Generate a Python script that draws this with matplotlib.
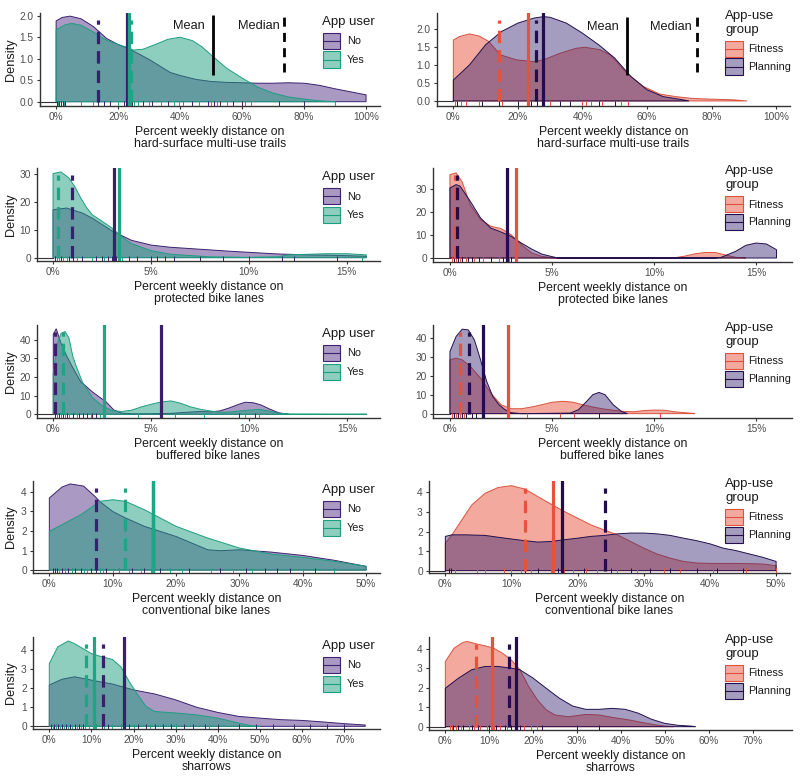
import matplotlib
matplotlib.use('Agg')
import matplotlib.pyplot as plt
from matplotlib.patches import Rectangle
from matplotlib.lines import Line2D
from matplotlib.colors import to_rgba

plt.rcParams['font.family'] = ['Liberation Sans', 'DejaVu Sans']
plt.rcParams['lines.scale_dashes'] = False

# ---------------- data (percent weekly distance, density) ----------------
# Row 1: hard-surface multi-use trails
l1_pct_no = [0, 2, 4.5, 8, 12, 16.3, 20, 22.8, 27, 30.3, 36.8, 40, 45, 50, 55, 60, 65, 70, 75, 80, 85, 90, 95, 100]
l1_den_no = [1.88, 1.96, 1.99, 1.93, 1.75, 1.47, 1.33, 1.25, 1.10, 0.97, 0.68, 0.61, 0.52, 0.47, 0.45, 0.44, 0.43, 0.43, 0.44, 0.43, 0.38, 0.30, 0.23, 0.16]
l1_pct_yes = [0, 3, 5, 8, 12, 16, 20, 23, 25, 28, 32, 36, 40, 44, 47, 50, 55, 60, 65, 70, 75, 80, 85, 90]
l1_den_yes = [1.67, 1.79, 1.82, 1.78, 1.62, 1.44, 1.33, 1.26, 1.20, 1.22, 1.33, 1.45, 1.50, 1.42, 1.28, 1.09, 0.78, 0.55, 0.34, 0.20, 0.11, 0.06, 0.02, 0.0]
r1_pct_fit = [0, 2, 5, 8, 11, 14.5, 19.6, 24.8, 27.9, 33, 38, 40.8, 45.5, 48.6, 53.7, 58.9, 64, 69, 74, 80, 87, 91]
r1_den_fit = [1.69, 1.79, 1.86, 1.80, 1.65, 1.28, 1.14, 1.09, 1.14, 1.32, 1.46, 1.49, 1.42, 1.28, 0.77, 0.40, 0.19, 0.12, 0.07, 0.05, 0.03, 0.0]
r1_pct_plan = [0, 5, 10, 15, 20, 25, 28, 30, 35, 40, 45, 50, 55, 60, 65, 70, 73]
r1_den_plan = [0.58, 1.0, 1.56, 1.93, 2.16, 2.30, 2.34, 2.32, 2.16, 1.88, 1.56, 1.19, 0.68, 0.31, 0.12, 0.05, 0.0]

# Row 2: protected bike lanes
l2_pct_no = [0, 0.7, 1.5, 2, 3, 4, 5, 6, 7.5, 9, 10, 11.5, 13, 14.5, 16]
l2_den_no = [17.1, 17.7, 15.9, 14.1, 9.6, 6.2, 4.5, 3.7, 3.0, 2.3, 1.9, 1.3, 1.0, 0.8, 0.5]
l2_pct_yes = [0, 0.4, 0.8, 1.1, 1.4, 1.7, 2.0, 2.5, 3.0, 3.5, 4, 5, 6, 8, 10, 11.5, 12, 13, 14, 15, 16]
l2_den_yes = [30.0, 30.6, 28.5, 25.5, 21.5, 18.0, 15.3, 13.0, 10.6, 7.5, 5.0, 2.5, 1.2, 0.3, 0.1, 0.3, 1.0, 1.2, 1.4, 1.4, 1.0]
r2_pct_fit = [0, 0.3, 0.6, 1.0, 1.5, 2.0, 2.5, 3.0, 3.5, 4.0, 4.5, 5.0, 5.5, 11.0, 11.5, 12.0, 12.5, 13.0, 13.5, 14.0, 14.5]
r2_den_fit = [36.2, 37.0, 33.0, 23.0, 16.7, 13.8, 12.8, 10.1, 5.8, 2.2, 0.7, 0.1, 0.0, 0.1, 0.8, 1.8, 2.4, 2.4, 1.3, 0.3, 0.0]
r2_pct_plan = [0, 0.3, 0.5, 1.0, 1.5, 2.0, 2.5, 3.0, 3.5, 4.0, 4.5, 5.0, 5.3, 13.0, 13.3, 14.0, 14.5, 15.0, 15.5, 16.0]
r2_den_plan = [30.4, 31.9, 31.2, 24.6, 17.4, 13.0, 11.3, 9.4, 6.5, 3.9, 1.7, 0.6, 0.0, 0.0, 0.3, 2.9, 5.5, 6.5, 6.1, 3.6]

# Row 3: buffered bike lanes
l3_pct_no = [0, 0.15, 0.4, 0.7, 1.0, 1.4, 2.0, 2.7, 3.1, 3.5, 4, 5, 6, 7, 7.5, 8, 8.5, 9, 9.5, 9.8, 10.2, 10.6, 11, 11.5, 12]
l3_den_no = [43, 46, 38, 31, 25, 17.5, 12, 6.6, 2.2, 0.6, 0.2, 0.2, 0.5, 1.2, 1.5, 1.3, 1.8, 3.5, 5.5, 6.5, 6.2, 5.0, 3.0, 0.8, 0.1]
l3_pct_yes = [0, 0.2, 0.4, 0.6, 0.8, 1.0, 1.2, 1.5, 2.0, 2.5, 3.0, 3.5, 4, 4.5, 5, 5.5, 6, 6.5, 7, 7.5, 8, 8.5, 9, 9.5, 10, 10.5, 11, 11.5, 12, 14, 16]
l3_den_yes = [22, 38, 43.5, 44.5, 41, 31, 25, 17, 9, 4.5, 2.0, 1.5, 2.2, 4, 5.4, 6.6, 7.2, 5.9, 4, 2.7, 1.8, 1.1, 1.2, 1.8, 2.2, 2.6, 1.8, 0.5, 0.1, 0.05, 0.05]
r3_pct_fit = [0, 0.3, 0.6, 1.0, 1.5, 2.0, 2.5, 3.0, 3.5, 4.0, 4.5, 5.0, 5.5, 6.0, 6.5, 7.0, 7.5, 8.0, 8.5, 9.0, 9.5, 10.0, 10.5, 11.0, 11.5, 12.0]
r3_den_fit = [28.4, 29.3, 28.4, 24.9, 18.8, 10.9, 4.7, 2.6, 2.6, 3.5, 4.7, 6.0, 6.5, 6.1, 4.7, 3.5, 2.5, 1.8, 1.2, 1.0, 1.6, 1.9, 1.8, 1.0, 0.5, 0.1]
r3_pct_plan = [0, 0.3, 0.6, 0.9, 1.2, 1.5, 1.8, 2.1, 2.4, 2.7, 3.0, 3.5, 5.9, 6.3, 6.7, 7.0, 7.3, 7.6, 8.0, 8.4, 8.7]
r3_den_plan = [32.8, 40.7, 44.6, 44.2, 38.9, 28.4, 17.0, 9.1, 4.7, 2.1, 0.5, 0.0, 0.3, 2.1, 6.5, 10.0, 11.2, 10.0, 4.7, 1.2, 0.0]

# Row 4: conventional bike lanes
l4_pct_no = [0, 2, 3.3, 5.4, 7.2, 8, 10, 12, 15, 20, 25, 27, 30, 35, 40, 45, 50]
l4_den_no = [3.69, 4.25, 4.41, 4.30, 3.77, 3.5, 3.0, 2.67, 2.24, 1.72, 1.04, 0.99, 1.04, 0.92, 0.75, 0.5, 0.19]
l4_pct_yes = [0, 5, 8, 10, 12, 15, 20, 25, 30, 35, 40, 45, 50]
l4_den_yes = [1.98, 2.84, 3.52, 3.6, 3.52, 3.09, 2.24, 1.64, 1.13, 0.82, 0.65, 0.45, 0.19]
r4_pct_fit = [0, 1, 2, 4, 6, 8, 10, 12, 14, 16, 18, 20, 22, 24, 26, 28, 30, 32, 34, 36, 38, 40, 44, 48, 50]
r4_den_fit = [1.40, 1.83, 2.34, 3.36, 3.95, 4.25, 4.34, 4.17, 3.78, 3.39, 3.02, 2.68, 2.34, 2.08, 1.83, 1.49, 1.15, 0.85, 0.64, 0.47, 0.39, 0.37, 0.37, 0.34, 0.25]
r4_pct_plan = [0, 1, 3, 6, 9, 12, 14, 16, 18, 20, 22, 24, 26, 28, 30, 32, 34, 36, 38, 40, 42, 44, 46, 48, 50]
r4_den_plan = [1.75, 1.83, 1.83, 1.80, 1.66, 1.53, 1.46, 1.49, 1.58, 1.66, 1.75, 1.80, 1.88, 1.92, 1.92, 1.88, 1.80, 1.66, 1.53, 1.37, 1.15, 1.02, 0.85, 0.68, 0.47]

# Row 5: sharrows
l5_pct_no = [0, 3, 6, 9, 12, 15, 20, 25, 30, 35, 40, 45, 50, 55, 60, 65, 70, 75]
l5_den_no = [2.17, 2.47, 2.60, 2.47, 2.34, 2.22, 1.91, 1.70, 1.39, 1.0, 0.73, 0.52, 0.43, 0.35, 0.31, 0.23, 0.14, 0.07]
l5_pct_yes = [0, 2, 4.5, 6, 8, 10, 12, 15, 17, 19, 21, 23, 25, 30, 35, 40, 45, 48, 50]
l5_den_yes = [3.30, 4.17, 4.48, 4.34, 4.08, 3.82, 3.68, 3.51, 3.12, 2.34, 1.65, 1.04, 0.78, 0.70, 0.60, 0.43, 0.17, 0.03, 0.0]
r5_pct_fit = [0, 2, 4, 5, 7, 9, 11, 13, 15, 17, 19, 21, 23, 25, 28, 32, 35, 38, 42, 45, 48, 50, 52]
r5_den_fit = [3.34, 4.03, 4.32, 4.37, 4.25, 4.15, 4.03, 3.77, 3.43, 2.92, 2.06, 1.37, 0.86, 0.60, 0.51, 0.63, 0.60, 0.48, 0.34, 0.21, 0.09, 0.03, 0.0]
r5_pct_plan = [0, 3, 6, 9, 12, 15, 17, 20, 23, 26, 29, 32, 35, 38, 41, 44, 47, 50, 53, 56, 57]
r5_den_plan = [1.97, 2.49, 2.92, 3.09, 3.09, 3.0, 2.92, 2.49, 1.97, 1.46, 1.06, 0.89, 0.89, 0.94, 0.89, 0.69, 0.38, 0.17, 0.07, 0.03, 0.0]

# means and medians per panel (order: first group, second group)
l1_means = [22.8, 23.5];  l1_medians = [13.6, 24.3]
r1_means = [23.0, 27.9];  r1_medians = [14.3, 25.6]
l2_means = [3.11, 3.37];  l2_medians = [0.99, 0.26]
r2_means = [3.24, 2.78];  r2_medians = [0.25, 0.33]
l3_means = [5.49, 2.58];  l3_medians = [0.08, 0.48]
r3_means = [2.86, 1.60];  r3_medians = [0.49, 0.95]
l4_means = [16.3, 16.3];  l4_medians = [7.3, 12.0]
r4_means = [16.2, 17.6];  r4_medians = [12.0, 24.1]
l5_means = [17.8, 10.7];  l5_medians = [12.8, 8.7]
r5_means = [10.6, 16.1];  r5_medians = [7.1, 14.6]

# rug observations
l1_rug_no = [0.4, 1.0, 1.6, 2.3, 3.0, 13.5, 15.5, 17.5, 22, 24.5, 28, 31, 36, 41, 44, 49, 51, 53, 57, 60, 72, 80]
l1_rug_yes = [0.7, 2.5, 8, 12, 20, 23.5, 24, 25, 26.5, 30, 34, 38, 39.5, 41, 46, 50, 52, 55, 61, 63, 90]
r1_rug_fit = [0.5, 1.2, 2.5, 4, 8, 15, 23, 30, 40, 41, 42.5, 46, 52, 54]
r1_rug_plan = [1, 9, 14, 20, 24, 26, 28, 33, 36, 45, 50]
l2_rug_no = [0.1, 0.4, 0.8, 1.0, 1.5, 2.2, 2.5, 2.8, 3.0, 3.2, 3.9, 4.3, 5.0, 5.3, 5.7, 6.2, 7.5, 8.7, 10.0, 11.7, 12.3, 14.5]
l2_rug_yes = [0.2, 0.3, 0.5, 0.7, 1.2, 2.0, 2.6, 3.3, 3.5, 15.8]
r2_rug_fit = [0.1, 0.3, 0.5, 0.8, 1.2, 1.6, 2.4, 2.9, 3.3]
r2_rug_plan = [0.2, 0.4, 0.6, 0.9, 1.1, 1.4, 2.0, 2.6, 3.0]
l3_rug_no = [0.1, 0.2, 0.3, 0.4, 0.5, 0.7, 1.0, 1.3, 1.5, 1.7, 2.0, 2.2, 9.5, 10.3]
l3_rug_yes = [0.2, 0.4, 0.6, 0.8, 1.2, 1.9, 2.4, 2.6, 4.3, 5.5, 6.2, 7.7, 9.8, 10.5]
r3_rug_fit = [0.1, 0.3, 0.5, 0.7, 3.8, 5.4, 6.1, 10.3]
r3_rug_plan = [0.2, 0.4, 0.6, 0.8, 1.1, 1.3, 7.3]
l4_rug_no = [0.5, 0.9, 1.2, 2.0, 2.5, 3.0, 3.5, 4.0, 5.0, 6.5, 7.3, 9, 11, 13, 15, 17.5, 19, 22, 27, 31, 34, 36, 38, 42, 45]
l4_rug_yes = [1.5, 2.5, 3.5, 5.5, 6, 8, 8.5, 10, 11, 12.5, 14.5, 16, 19, 21, 25.5, 29, 32, 40, 45]
r4_rug_fit = [1.5, 4.8, 6, 8.8, 10, 11.5, 13, 14, 16, 18, 19.3, 21.3, 23, 26, 29, 33, 35.5, 40.5, 45.5, 50]
r4_rug_plan = [0.5, 0.9, 12, 14, 17, 21, 25, 28, 31, 34, 38, 41, 45]
l5_rug_no = [0.5, 1, 1.5, 2, 3, 4, 5, 6, 7, 8, 11, 12.5, 13, 14, 17, 19, 21, 23, 25, 27, 29, 30, 32, 34, 37, 40, 45, 49, 53, 58, 62, 66, 70]
l5_rug_yes = [0.8, 1.5, 2.5, 3.5, 4.5, 5.5, 6.5, 7.5, 8.5, 9.5, 11, 13, 15, 17, 20, 24, 30, 38]
r5_rug_fit = [1, 1.5, 2.5, 3.5, 5.5, 6.5, 8, 9.5, 11, 12.5, 14, 16, 18, 19.5, 21]
r5_rug_plan = [1.8, 3, 4, 6, 7.5, 10, 11.5, 13.5, 15, 17, 22, 30, 35]

left_groups = ['No', 'Yes']
right_groups = ['Fitness', 'Planning']
xlabels = ['hard-surface multi-use trails', 'protected bike lanes', 'buffered bike lanes',
           'conventional bike lanes', 'sharrows']

# ---------------- styling ----------------
STY = {
    'No':       dict(line='#3D2270', fill='#5B3C8C', alpha=0.52, vline='#3B1F6E'),
    'Yes':      dict(line='#1E9E80', fill='#1F9E7F', alpha=0.5, vline='#1FA584'),
    'Fitness':  dict(line='#D9543F', fill='#E8553D', alpha=0.5, vline='#E5533A'),
    'Planning': dict(line='#24104F', fill='#33206E', alpha=0.44, vline='#230C4F'),
}

W, H = 800, 781
fig = plt.figure(figsize=(W / 100, H / 100), dpi=100)
fig.patch.set_facecolor('white')


def add_ax(l, t, r, b):
    return fig.add_axes([l / W, 1 - b / H, (r - l) / W, (b - t) / H])


def fig_text(px, py, s, **kw):
    fig.text(px / W, 1 - py / H, s, **kw)


TICK_C = '#4D4D4D'
AX_C = '#333333'

layout = [
    dict(L=(40, 13, 380, 106), Lx=(-5.2, 104.5), Ly=(-0.10, 2.063),
         R=(437, 13, 790, 106), Rx=(-5.06, 104.3), Ry=(-0.14, 2.44),
         xt=[0, 20, 40, 60, 80, 100], yt=[0, 0.5, 1.0, 1.5, 2.0], fmt='{:.1f}'),
    dict(L=(37, 168, 380, 261), Lx=(-0.82, 16.7), Ly=(-1.2, 32),
         R=(433, 168, 792, 262), Rx=(-0.83, 16.76), Ry=(-1.74, 39.1),
         xt=[0, 5, 10, 15], yt=[0, 10, 20, 30], fmt='{:.0f}'),
    dict(L=(37, 325, 380, 418), Lx=(-0.83, 16.67), Ly=(-2.0, 48),
         R=(433, 325, 792, 418), Rx=(-0.83, 16.76), Ry=(-2.3, 46.8),
         xt=[0, 5, 10, 15], yt=[0, 10, 20, 30, 40], fmt='{:.0f}'),
    dict(L=(33, 481, 380, 573), Lx=(-2.58, 52.2), Ly=(-0.15, 4.56),
         R=(429, 481, 790, 573), Rx=(-2.47, 52.1), Ry=(-0.12, 4.58),
         xt=[0, 10, 20, 30, 40, 50], yt=[0, 1, 2, 3, 4], fmt='{:.0f}'),
    dict(L=(33, 637, 380, 729), Lx=(-3.87, 78.5), Ly=(-0.14, 4.69),
         R=(429, 637, 792, 730), Rx=(-3.72, 79.0), Ry=(-0.17, 4.6),
         xt=[0, 10, 20, 30, 40, 50, 60, 70], yt=[0, 1, 2, 3, 4], fmt='{:.0f}'),
]

left_data = [
    ([(l1_pct_no, l1_den_no), (l1_pct_yes, l1_den_yes)], l1_means, l1_medians, [l1_rug_no, l1_rug_yes]),
    ([(l2_pct_no, l2_den_no), (l2_pct_yes, l2_den_yes)], l2_means, l2_medians, [l2_rug_no, l2_rug_yes]),
    ([(l3_pct_no, l3_den_no), (l3_pct_yes, l3_den_yes)], l3_means, l3_medians, [l3_rug_no, l3_rug_yes]),
    ([(l4_pct_no, l4_den_no), (l4_pct_yes, l4_den_yes)], l4_means, l4_medians, [l4_rug_no, l4_rug_yes]),
    ([(l5_pct_no, l5_den_no), (l5_pct_yes, l5_den_yes)], l5_means, l5_medians, [l5_rug_no, l5_rug_yes]),
]
right_data = [
    ([(r1_pct_fit, r1_den_fit), (r1_pct_plan, r1_den_plan)], r1_means, r1_medians, [r1_rug_fit, r1_rug_plan]),
    ([(r2_pct_fit, r2_den_fit), (r2_pct_plan, r2_den_plan)], r2_means, r2_medians, [r2_rug_fit, r2_rug_plan]),
    ([(r3_pct_fit, r3_den_fit), (r3_pct_plan, r3_den_plan)], r3_means, r3_medians, [r3_rug_fit, r3_rug_plan]),
    ([(r4_pct_fit, r4_den_fit), (r4_pct_plan, r4_den_plan)], r4_means, r4_medians, [r4_rug_fit, r4_rug_plan]),
    ([(r5_pct_fit, r5_den_fit), (r5_pct_plan, r5_den_plan)], r5_means, r5_medians, [r5_rug_fit, r5_rug_plan]),
]

DASH = (9.0, 5.0)


def draw_panel(rect, xlim, ylim, xt, yt, fmt, data, groups, xlabel_tail, ylabel):
    ax = add_ax(*rect)
    ax.set_xlim(*xlim)
    ax.set_ylim(*ylim)
    for s in ['top', 'right']:
        ax.spines[s].set_visible(False)
    for s in ['left', 'bottom']:
        ax.spines[s].set_color(AX_C)
        ax.spines[s].set_linewidth(1.0)
    ax.set_xticks(xt)
    ax.set_xticklabels([f'{v}%' for v in xt])
    ax.set_yticks(yt)
    ax.set_yticklabels([fmt.format(v) for v in yt])
    ax.tick_params(length=2.5, width=0.8, color=AX_C, labelcolor=TICK_C,
                   labelsize=7.3, pad=2)
    curves, means, medians, rugs = data
    ax.plot([xlim[0], 0], [0, 0], color=AX_C, lw=0.8, zorder=1)
    for g, (xs, ds) in zip(groups, curves):
        st = STY[g]
        px = [xs[0]] + list(xs) + [xs[-1]]
        py = [0] + list(ds) + [0]
        ax.fill(px, py, facecolor=to_rgba(st['fill'], st['alpha']),
                edgecolor=st['line'], lw=0.7, zorder=2)
    yr = ylim[1] - ylim[0]
    zero_frac = (0 - ylim[0]) / yr
    for g, rug in zip(groups, rugs):
        ax.vlines(rug, ylim[0], ylim[0] + 0.05 * yr, color=STY[g]['vline'],
                  lw=0.7, zorder=3)
    for g, med in zip(groups, medians):
        ln = ax.axvline(med, ymin=zero_frac, ymax=0.925, color=STY[g]['vline'],
                        lw=2.3, zorder=4)
        ln.set_dashes(DASH)
    for g, mn in zip(groups, means):
        ax.axvline(mn, ymin=0, ymax=1, color=STY[g]['vline'], lw=2.3, zorder=4)
    l, t, r, b = rect
    fig_text((l + r) / 2, b + 20, 'Percent weekly distance on\n' + xlabel_tail,
             ha='center', va='top', fontsize=8.8, color='#1A1A1A', linespacing=1.05)
    if ylabel:
        fig_text(11, (t + b) / 2, 'Density', rotation=90, ha='center', va='center',
                 fontsize=9.2, color='#1A1A1A')
    return ax


def legend_left(top):
    fig_text(322, top + 9, 'App user', ha='left', va='center', fontsize=9.5, color='#1A1A1A')
    for i, g in enumerate(left_groups):
        y0 = top + 20 + i * 18.5
        st = STY[g]
        fig.patches.append(Rectangle((323 / W, 1 - (y0 + 16) / H), 17 / W, 16 / H,
                                     transform=fig.transFigure,
                                     facecolor=to_rgba(st['fill'], st['alpha']),
                                     edgecolor=st['line'], lw=0.8))
        fig.lines.append(Line2D([323 / W, 340 / W], [1 - (y0 + 8) / H] * 2,
                                transform=fig.transFigure, color=st['line'], lw=0.8))
        fig_text(347, y0 + 8.5, g, ha='left', va='center', fontsize=7.8, color='#1A1A1A')


def legend_right(top):
    fig_text(725, top + 10, 'App-use\ngroup', ha='left', va='center', fontsize=9.5,
             color='#1A1A1A', linespacing=1.15)
    for i, g in enumerate(right_groups):
        y0 = top + 28 + i * 17.5
        st = STY[g]
        fig.patches.append(Rectangle((725 / W, 1 - (y0 + 16) / H), 18 / W, 16 / H,
                                     transform=fig.transFigure,
                                     facecolor=to_rgba(st['fill'], st['alpha']),
                                     edgecolor=st['line'], lw=0.8))
        fig.lines.append(Line2D([725 / W, 743 / W], [1 - (y0 + 8) / H] * 2,
                                transform=fig.transFigure, color=st['line'], lw=0.8))
        fig_text(748, y0 + 8.5, g, ha='left', va='center', fontsize=7.8, color='#1A1A1A')


axes_L, axes_R = [], []
for i, lay in enumerate(layout):
    axL = draw_panel(lay['L'], lay['Lx'], lay['Ly'], lay['xt'], lay['yt'], lay['fmt'],
                     left_data[i], left_groups, xlabels[i], True)
    axR = draw_panel(lay['R'], lay['Rx'], lay['Ry'], lay['xt'], lay['yt'], lay['fmt'],
                     right_data[i], right_groups, xlabels[i], False)
    legend_left(lay['L'][1])
    legend_right(lay['R'][1])
    axes_L.append(axL)
    axes_R.append(axR)

# Mean / Median key in the top row
for ax, (xm, ym_top, ym_bot, xd, yd_bot, ytxt) in [
        (axes_L[0], (50.6, 2.02, 0.62, 73.5, 0.70, 1.76)),
        (axes_R[0], (53.8, 2.33, 0.72, 75.5, 0.80, 2.06))]:
    ax.plot([xm, xm], [ym_bot, ym_top], color='black', lw=2.0, zorder=5,
            solid_capstyle='butt')
    ln, = ax.plot([xd, xd], [yd_bot, ym_top], color='black', lw=2.0, zorder=5)
    ln.set_dashes((6.5, 4.5))
    ax.text(xm - 2.5, ytxt, 'Mean', ha='right', va='center', fontsize=9.2, color='#1A1A1A')
    ax.text(xd - 1.5, ytxt, 'Median', ha='right', va='center', fontsize=9.2, color='#1A1A1A')

fig.savefig('out.png', dpi=100, facecolor='white')
